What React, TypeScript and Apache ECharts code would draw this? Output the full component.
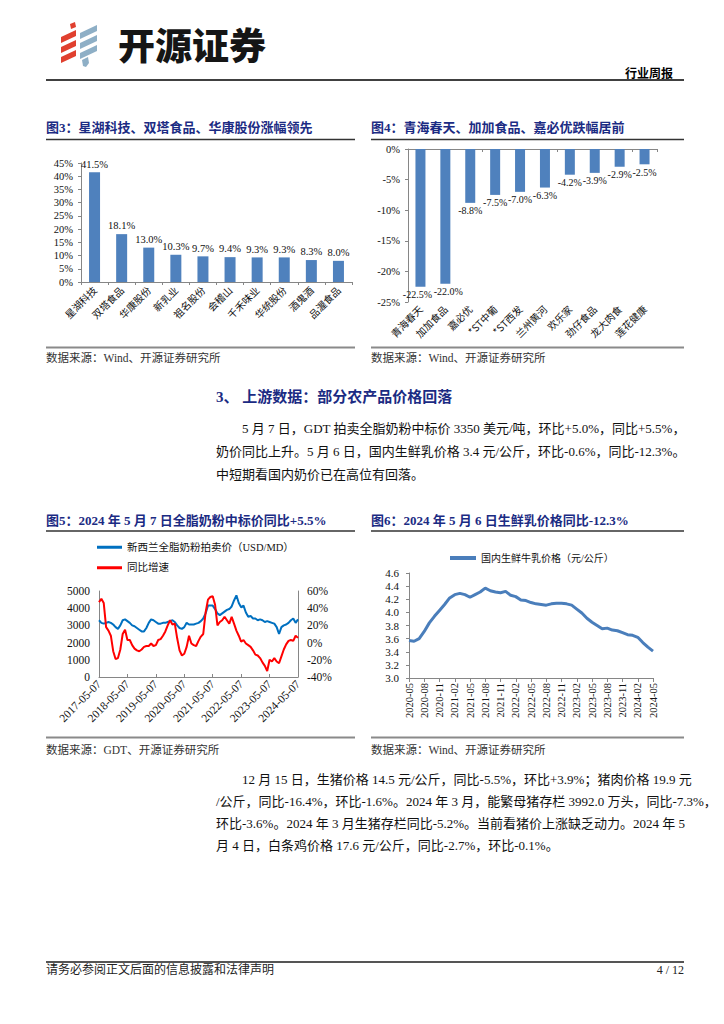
import React, { useEffect, useRef } from 'react';
import * as echarts from 'echarts';

// ---------- DATA ----------
const fig3Names = ['星湖科技', '双塔食品', '华康股份', '新乳业', '祖名股份', '会稽山', '千禾味业', '华统股份', '酒鬼酒', '品渥食品'];
const fig3Values = [41.5, 18.1, 13.0, 10.3, 9.7, 9.4, 9.3, 9.3, 8.3, 8.0];

const fig4Names = ['青海春天', '加加食品', '嘉必优', '*ST中葡', '*ST西发', '兰州黄河', '欢乐家', '劲仔食品', '龙大肉食', '莲花健康'];
const fig4Values = [-22.5, -22.0, -8.8, -7.5, -7.0, -6.3, -4.2, -3.9, -2.9, -2.5];

// monthly points 2017-05 .. 2024-05
const fig5Dates: string[] = [];
for (let y = 2017, m = 5; y < 2024 || (y === 2024 && m <= 5); ) {
  fig5Dates.push(`${y}-${String(m).padStart(2, '0')}-07`);
  m++;
  if (m > 12) { m = 1; y++; }
}
const wmpPrice = [
  3300, 3150, 3100, 3150, 3200, 3150, 3050, 2900, 2800, 3000,
  3300, 3350, 3250, 3150, 3000, 2950, 2850, 2750, 2650, 2650,
  2850, 3150, 3350, 3300, 3200, 3100, 3100, 3150, 3150, 3200,
  3250, 3300, 3200, 3000, 2850, 2800, 2900, 3150, 3050, 3050,
  3050, 3100, 3150, 3250, 3400, 3700, 4150, 4150, 4150, 3950,
  3700, 3600, 3700, 3800, 3900, 3950, 4100, 4450, 4750, 4300,
  4050, 4150, 3750, 3500, 3550, 3400, 3400, 3300, 3350, 3300,
  3200, 3250, 3200, 3150, 3100, 2900, 2500, 2900, 3000, 3050,
  3150, 3300, 3400, 3150, 3350,
];
const wmpYoy = [
  47, 51, 46, 18, 14, 8, -10, -19, -18, -8,
  10, 15, 3, 3, -3, -7, -9, -10, -8, -5,
  -4, -4, -1, -4, -3, 3, 4, 8, 13, 20,
  26, 21, 22, 5, -9, -15, -13, -5, 8, -1,
  -3, -4, 2, 7, 10, 35, 50, 53, 54, 44,
  20, 24, 26, 30, 26, 22, 30, 22, 14, 8,
  1, 3, -1, -3, -5, -9, -14, -15, -18, -23,
  -27, -33, -20, -22, -18, -22, -24, -16, -8, -2,
  2, 3, 2, 8, 5.5,
];

// monthly points 2020-05 .. 2024-05
const fig6Months: string[] = [];
for (let y = 2020, m = 5; y < 2024 || (y === 2024 && m <= 5); ) {
  fig6Months.push(`${y}-${String(m).padStart(2, '0')}`);
  m++;
  if (m > 12) { m = 1; y++; }
}
const milkPrice = [
  3.57, 3.56, 3.60, 3.71, 3.84, 3.94, 4.03, 4.12, 4.22, 4.27,
  4.29, 4.27, 4.23, 4.27, 4.31, 4.37, 4.33, 4.31, 4.30, 4.32,
  4.26, 4.24, 4.19, 4.18, 4.15, 4.13, 4.12, 4.11, 4.13, 4.14,
  4.14, 4.13, 4.11, 4.05, 3.99, 3.91, 3.85, 3.80, 3.75, 3.76,
  3.73, 3.72, 3.69, 3.66, 3.65, 3.62, 3.54, 3.47, 3.41,
];

const para1 = [
  '5 月 7 日，GDT 拍卖全脂奶粉中标价 3350 美元/吨，环比+5.0%，同比+5.5%，',
  '奶价同比上升。5 月 6 日，国内生鲜乳价格 3.4 元/公斤，环比-0.6%，同比-12.3%。',
  '中短期看国内奶价已在高位有回落。',
];
const para2 = [
  '12 月 15 日，生猪价格 14.5 元/公斤，同比-5.5%，环比+3.9%；猪肉价格 19.9 元',
  '/公斤，同比-16.4%，环比-1.6%。2024 年 3 月，能繁母猪存栏 3992.0 万头，同比-7.3%，',
  '环比-3.6%。2024 年 3 月生猪存栏同比-5.2%。当前看猪价上涨缺乏动力。2024 年 5',
  '月 4 日，白条鸡价格 17.6 元/公斤，同比-2.7%，环比-0.1%。',
];

// ---------- STYLE ----------
const SERIF = "'Liberation Serif','Times New Roman','Noto Sans CJK SC',serif";
const CJK = "'Noto Sans CJK SC','Liberation Serif',sans-serif";
const NAVY = '#1B2B83';
const AXIS = '#868686';
const BAR = '#4F81BD';

function txt(x: number, y: number, text: string, o: any = {}) {
  return {
    type: 'text', x, y, silent: true,
    style: {
      text, fontSize: o.size || 13, fontFamily: o.family || SERIF,
      fontWeight: o.weight || 'normal', fill: o.color || '#111',
      textAlign: o.align || 'left', textVerticalAlign: 'middle', verticalAlign: 'middle',
    },
  };
}
function ln(x1: number, y1: number, x2: number, y2: number, stroke = '#000', w = 1) {
  return { type: 'line', silent: true, shape: { x1, y1, x2, y2 }, style: { stroke, lineWidth: w } };
}
function poly(points: number[][], fill: string) {
  return { type: 'polygon', silent: true, shape: { points }, style: { fill } };
}

export default function App() {
  const ref = useRef<HTMLDivElement>(null);
  useEffect(() => {
    if (!ref.current) return;
    const chart = echarts.init(ref.current, null, { renderer: 'svg' });

    const red = '#E0402F';
    const blue = '#8EAFC6';
    const src = { size: 11.5, color: '#333' };
    const graphic: any[] = [
      // logo
      poly([[70, 24], [75, 22], [76, 27], [71, 29]], red),
      poly([[61, 37], [76, 30], [76, 36], [61, 43]], red),
      poly([[61, 47], [76, 40], [76, 46], [61, 53]], red),
      poly([[61, 57], [76, 50], [76, 56], [61, 63]], red),
      poly([[80, 33], [97, 25], [97, 31], [80, 39]], blue),
      poly([[80, 43], [97, 35], [97, 41], [80, 49]], blue),
      poly([[80, 53], [97, 45], [97, 51], [80, 59]], blue),
      poly([[82, 60], [88, 57], [89, 63], [86, 67], [83, 66]], blue),
      txt(118, 44, '开源证券', { size: 37, weight: 900, family: CJK, color: '#151515' }),
      txt(673, 72, '行业周报', { size: 12, weight: 'bold', family: CJK, align: 'right', color: '#000' }),
      ln(46, 80, 684, 80, '#000', 1.5),

      // fig3 frame
      txt(46, 127, '图3：星湖科技、双塔食品、华康股份涨幅领先', { weight: 'bold', color: NAVY }),
      ln(46, 139.5, 355, 139.5, '#333', 1.5),
      ln(46, 347.5, 355, 347.5, '#8a8a8a', 2),
      txt(46, 358, '数据来源：Wind、开源证券研究所', src),
      // fig4 frame
      txt(371, 127, '图4：青海春天、加加食品、嘉必优跌幅居前', { weight: 'bold', color: NAVY }),
      ln(371, 139.5, 684, 139.5, '#333', 1.5),
      ln(371, 347.5, 684, 347.5, '#8a8a8a', 2),
      txt(371, 358, '数据来源：Wind、开源证券研究所', src),

      // section heading
      txt(216, 397, '3、 上游数据：部分农产品价格回落', { size: 15, weight: 'bold', color: NAVY }),
      ...para1.map((s, i) => txt(i === 0 ? 242 : 216, 428 + i * 23, s, { size: 13, color: '#111' })),

      // fig5 frame
      txt(46, 520, '图5：2024 年 5 月 7 日全脂奶粉中标价同比+5.5%', { weight: 'bold', color: NAVY }),
      ln(46, 531, 355, 531, '#333', 1.5),
      ln(46, 737.5, 355, 737.5, '#8a8a8a', 2),
      txt(46, 750, '数据来源：GDT、开源证券研究所', src),
      // fig6 frame
      txt(371, 520, '图6：2024 年 5 月 6 日生鲜乳价格同比-12.3%', { weight: 'bold', color: NAVY }),
      ln(371, 531, 684, 531, '#333', 1.5),
      ln(371, 737.5, 684, 737.5, '#8a8a8a', 2),
      txt(371, 750, '数据来源：Wind、开源证券研究所', src),

      ...para2.map((s, i) => txt(i === 0 ? 242 : 216, 779 + i * 22, s, { size: 13, color: '#111' })),

      // footer
      ln(46, 962, 684, 962, '#555', 2),
      txt(46, 970, '请务必参阅正文后面的信息披露和法律声明', { size: 12, color: '#222' }),
      txt(684, 970, '4 / 12', { size: 12, color: '#222', align: 'right' }),
    ];

    const axisLine = { show: true, lineStyle: { color: AXIS, width: 1 } };
    const tick = { show: true, length: 3, lineStyle: { color: AXIS } };
    const numLabel = { fontFamily: SERIF, fontSize: 10.5, color: '#111' };

    // nudge the two adjacent long labels apart so they don't collide
    const fig4Data = fig4Values.map((v, i) => ({
      value: v,
      label: i === 0 ? { offset: [-3, 0] } : i === 1 ? { offset: [3, 0] } : undefined,
    }));

    const option: any = {
      animation: false,
      backgroundColor: '#fff',
      graphic,
      legend: [
        {
          orient: 'vertical', left: 97, top: 542, itemGap: 10, itemWidth: 25, itemHeight: 3,
          icon: 'rect', data: ['新西兰全脂奶粉拍卖价（USD/MD）', '同比增速'],
          textStyle: { fontFamily: SERIF, fontSize: 10.5, color: '#111' }, padding: 0,
        },
        {
          left: 450, top: 553, itemWidth: 26, itemHeight: 4, icon: 'rect',
          data: ['国内生鲜牛乳价格（元/公斤）'],
          textStyle: { fontFamily: SERIF, fontSize: 10, color: '#111' }, padding: 0,
        },
      ],
      grid: [
        { left: 81, top: 163, width: 271, height: 119 },
        { left: 408, top: 149, width: 249, height: 153 },
        { left: 99, top: 591, width: 199, height: 86 },
        { left: 409, top: 573, width: 244, height: 105 },
      ],
      xAxis: [
        {
          gridIndex: 0, type: 'category', data: fig3Names, axisLine, axisTick: tick,
          axisLabel: { rotate: 45, interval: 0, fontSize: 10, fontFamily: CJK, color: '#111', margin: 6 },
        },
        {
          gridIndex: 1, type: 'category', data: fig4Names, position: 'bottom',
          axisLine: { show: false }, axisTick: { show: false },
          axisLabel: { rotate: 45, interval: 0, fontSize: 10, fontFamily: CJK, color: '#111', margin: 5 },
        },
        {
          gridIndex: 1, type: 'category', data: fig4Names, position: 'top',
          axisLine, axisTick: { show: true, length: 3, inside: true, lineStyle: { color: AXIS } },
          axisLabel: { show: false },
        },
        {
          gridIndex: 2, type: 'category', data: fig5Dates, boundaryGap: false, axisLine,
          axisTick: { show: true, interval: 11, length: 3, inside: true, lineStyle: { color: AXIS } },
          axisLabel: { rotate: 45, interval: 11, ...numLabel, fontSize: 11.5, margin: 5 },
        },
        {
          gridIndex: 3, type: 'category', data: fig6Months, boundaryGap: false, axisLine,
          axisTick: { show: true, interval: 2, length: 4, lineStyle: { color: AXIS } },
          axisLabel: { rotate: 90, interval: 2, ...numLabel, fontSize: 10.5, margin: 5 },
        },
      ],
      yAxis: [
        {
          gridIndex: 0, type: 'value', min: 0, max: 45, interval: 5, axisLine, axisTick: tick,
          splitLine: { show: false }, axisLabel: { ...numLabel, formatter: '{value}%' },
        },
        {
          gridIndex: 1, type: 'value', min: -25, max: 0, interval: 5, axisLine, axisTick: tick,
          splitLine: { show: false }, axisLabel: { ...numLabel, formatter: '{value}%' },
        },
        {
          gridIndex: 2, type: 'value', min: 0, max: 5000, interval: 1000, axisLine,
          axisTick: { show: false }, splitLine: { show: false },
          axisLabel: { ...numLabel, fontSize: 11.5, margin: 9, formatter: (v: number) => String(v) },
        },
        {
          gridIndex: 2, type: 'value', position: 'right', min: -40, max: 60, interval: 20, axisLine,
          axisTick: { show: false }, splitLine: { show: false },
          axisLabel: { ...numLabel, fontSize: 11.5, margin: 9, formatter: '{value}%' },
        },
        {
          gridIndex: 3, type: 'value', min: 3.0, max: 4.6, interval: 0.2, axisLine, axisTick: tick,
          splitLine: { show: false },
          axisLabel: { ...numLabel, fontSize: 11, margin: 10, formatter: (v: number) => v.toFixed(1) },
        },
      ],
      series: [
        {
          type: 'bar', xAxisIndex: 0, yAxisIndex: 0, data: fig3Values, barWidth: 11,
          itemStyle: { color: BAR },
          label: {
            show: true, position: 'top', distance: 3, fontFamily: SERIF, fontSize: 10.5, color: '#111',
            formatter: (p: any) => p.value.toFixed(1) + '%',
          },
        },
        {
          type: 'bar', xAxisIndex: 1, yAxisIndex: 1, data: fig4Data, barWidth: 10,
          itemStyle: { color: BAR },
          label: {
            show: true, position: 'bottom', distance: 3, fontFamily: SERIF, fontSize: 10, color: '#111',
            formatter: (p: any) => p.value.toFixed(1) + '%',
          },
        },
        {
          name: '新西兰全脂奶粉拍卖价（USD/MD）', type: 'line', xAxisIndex: 3, yAxisIndex: 2,
          data: wmpPrice, symbol: 'none', lineStyle: { color: '#0070C0', width: 2 }, itemStyle: { color: '#0070C0' },
        },
        {
          name: '同比增速', type: 'line', xAxisIndex: 3, yAxisIndex: 3,
          data: wmpYoy, symbol: 'none', lineStyle: { color: '#FF0000', width: 2 }, itemStyle: { color: '#FF0000' },
        },
        {
          name: '国内生鲜牛乳价格（元/公斤）', type: 'line', xAxisIndex: 4, yAxisIndex: 4,
          data: milkPrice, symbol: 'none', lineStyle: { color: '#4A7EBB', width: 3 }, itemStyle: { color: '#4A7EBB' },
        },
      ],
    };
    chart.setOption(option);
    return () => chart.dispose();
  }, []);

  return (
    <div
      ref={ref}
      style={{ position: 'absolute', left: 0, top: 0, width: 724, height: 1024, background: '#fff' }}
    />
  );
}
